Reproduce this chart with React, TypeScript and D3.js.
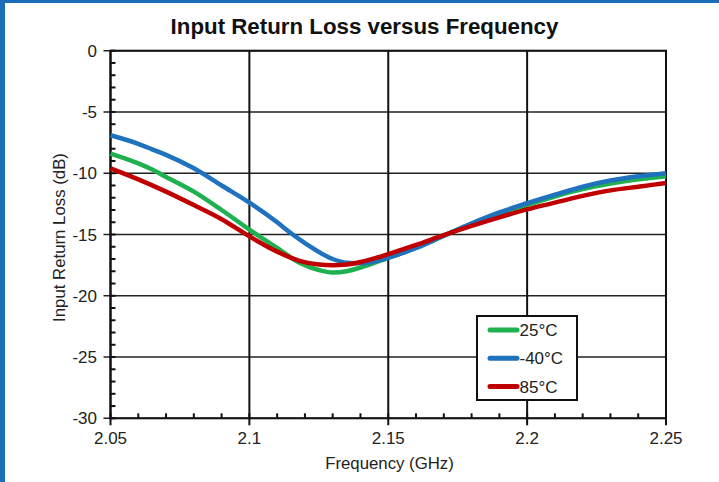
import React from "react";
import * as d3 from "d3";

const freqBlue = [2.05, 2.06, 2.065, 2.07, 2.08, 2.09, 2.1, 2.11, 2.115, 2.12, 2.13, 2.135, 2.14, 2.15, 2.16, 2.17, 2.18, 2.19, 2.2, 2.21, 2.22, 2.23, 2.24, 2.25];
const lossBlue = [-6.9, -7.6, -8.05, -8.5, -9.6, -11.0, -12.4, -14.0, -14.9, -15.7, -17.0, -17.3, -17.35, -16.9, -16.1, -15.1, -14.1, -13.2, -12.45, -11.75, -11.1, -10.6, -10.25, -10.0];

const freqGreen = [2.05, 2.06, 2.065, 2.07, 2.08, 2.09, 2.1, 2.11, 2.118, 2.125, 2.13, 2.135, 2.14, 2.15, 2.16, 2.17, 2.18, 2.19, 2.2, 2.21, 2.22, 2.23, 2.24, 2.25];
const lossGreen = [-8.4, -9.2, -9.7, -10.3, -11.5, -13.0, -14.6, -16.1, -17.3, -17.9, -18.1, -18.0, -17.7, -16.9, -16.1, -15.1, -14.1, -13.3, -12.6, -11.9, -11.3, -10.85, -10.5, -10.25];

const freqRed = [2.05, 2.06, 2.07, 2.08, 2.09, 2.1, 2.11, 2.118, 2.125, 2.13, 2.135, 2.14, 2.145, 2.15, 2.16, 2.17, 2.18, 2.19, 2.2, 2.21, 2.22, 2.23, 2.24, 2.25];
const lossRed = [-9.6, -10.5, -11.5, -12.6, -13.75, -15.15, -16.4, -17.15, -17.45, -17.5, -17.45, -17.25, -16.95, -16.6, -15.85, -15.05, -14.3, -13.6, -12.95, -12.4, -11.85, -11.4, -11.1, -10.8];

const seriesNames = ["25°C", "-40°C", "85°C"];
const seriesColors = ["#1fb04f", "#1f72bd", "#c00000"];

const xTicks = [2.05, 2.1, 2.15, 2.2, 2.25];
const xTickLabels = ["2.05", "2.1", "2.15", "2.2", "2.25"];
const yTicks = [0, -5, -10, -15, -20, -25, -30];

const W = 719;
const H = 482;
const left = 110.5;
const right = 666;
const top = 50.7;
const bottom = 418.3;
const FONT = "'Liberation Sans', Arial, sans-serif";

export default function App() {
  const x = d3.scaleLinear().domain([2.05, 2.25]).range([left, right]);
  const y = d3.scaleLinear().domain([0, -30]).range([top, bottom]);
  const line = d3
    .line<[number, number]>()
    .x((d) => x(d[0]))
    .y((d) => y(d[1]))
    .curve(d3.curveMonotoneX);

  const series = [
    { f: freqGreen, v: lossGreen, c: seriesColors[0] },
    { f: freqBlue, v: lossBlue, c: seriesColors[1] },
    { f: freqRed, v: lossRed, c: seriesColors[2] },
  ];

  const xMinor = d3.range(0, 21).map((i) => 2.05 + i * 0.01);
  const yMinor = d3.range(0, 31).map((i) => -i);

  const legendItems = seriesNames.map((n, i) => ({ n, c: seriesColors[i] }));

  return (
    <svg width={W} height={H} style={{ position: "absolute", left: 0, top: 0 }}>
      <rect x={0} y={0} width={W} height={H} fill="#ffffff" />
      <rect x={0} y={0} width={W} height={3} fill="#1a6db6" />
      <rect x={0} y={0} width={5} height={H} fill="#1a6db6" />

      <text x={364.5} y={34} textAnchor="middle" fontFamily={FONT} fontWeight="bold" fontSize={22.3} fill="#111">
        Input Return Loss versus Frequency
      </text>

      {/* horizontal grid */}
      {yTicks.map((t) => (
        <line key={"hy" + t} x1={left - 7} x2={right} y1={y(t)} y2={y(t)} stroke="#222" strokeWidth={1.6} />
      ))}
      {/* vertical grid */}
      {xTicks.map((t) => (
        <line key={"vx" + t} x1={x(t)} x2={x(t)} y1={top} y2={bottom + 7} stroke="#111" strokeWidth={2} />
      ))}
      {/* minor ticks */}
      {xMinor.map((t, i) => (
        <line key={"mx" + i} x1={x(t)} x2={x(t)} y1={bottom} y2={bottom - 5} stroke="#111" strokeWidth={2} />
      ))}
      {yMinor.map((t, i) => (
        <line key={"my" + i} x1={left} x2={left + 5} y1={y(t)} y2={y(t)} stroke="#111" strokeWidth={2} />
      ))}
      <rect x={left} y={top} width={right - left} height={bottom - top} fill="none" stroke="#111" strokeWidth={2} />

      {series.map((s, i) => (
        <path
          key={i}
          d={line(s.f.map((f, j) => [f, s.v[j]] as [number, number])) || ""}
          fill="none"
          stroke={s.c}
          strokeWidth={4.5}
          strokeLinejoin="round"
          strokeLinecap="butt"
        />
      ))}

      {/* y tick labels */}
      {yTicks.map((t) => (
        <text key={"yl" + t} x={97} y={y(t) + 6} textAnchor="end" fontFamily={FONT} fontSize={17} fill="#222">
          {String(t)}
        </text>
      ))}
      {xTicks.map((t, i) => (
        <text key={"xl" + t} x={x(t)} y={444} textAnchor="middle" fontFamily={FONT} fontSize={17} fill="#222">
          {xTickLabels[i]}
        </text>
      ))}

      <text x={389.5} y={468.5} textAnchor="middle" fontFamily={FONT} fontSize={16.8} fill="#222">
        Frequency (GHz)
      </text>
      <text
        transform={`translate(65,237.5) rotate(-90)`}
        textAnchor="middle"
        fontFamily={FONT}
        fontSize={16.8}
        fill="#222"
      >
        Input Return Loss (dB)
      </text>

      {/* legend */}
      <rect x={477} y={316} width={100} height={84} fill="#ffffff" stroke="#111" strokeWidth={2} />
      {legendItems.map((it, i) => (
        <g key={it.n}>
          <line x1={490} x2={517} y1={330 + i * 28.3} y2={330 + i * 28.3} stroke={it.c} strokeWidth={5} strokeLinecap="round" />
          <text x={519.5} y={330 + i * 28.3 + 6} fontFamily={FONT} fontSize={17} fill="#222">
            {it.n}
          </text>
        </g>
      ))}
    </svg>
  );
}
